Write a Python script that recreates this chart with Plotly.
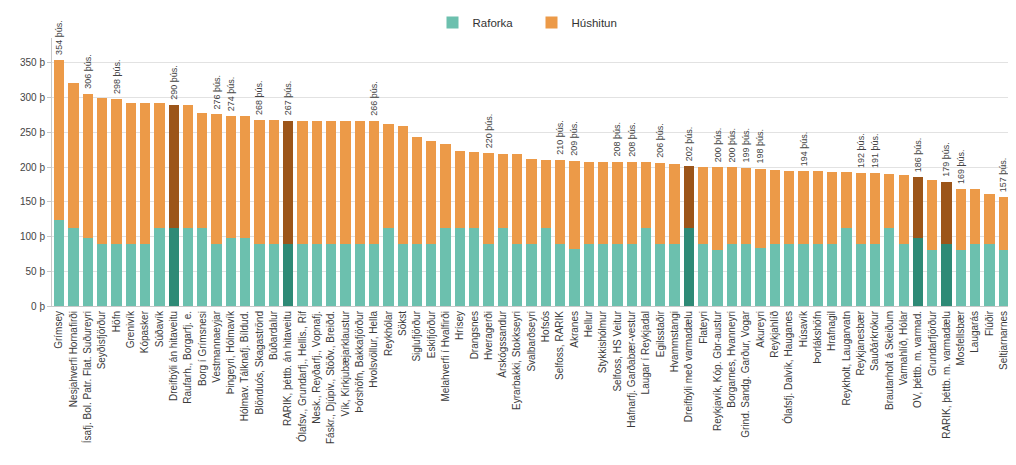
import plotly.graph_objects as go

categories = [
    "Grímsey", "Nesjahverfi Hornafirði", "Ísafj. Bol. Patr. Flat. Suðureyri", "Seyðisfjörður",
    "Höfn", "Grenivík", "Kópasker", "Súðavík", "Dreifbýli án hitaveitu",
    "Raufarh., Borgarfj. e.", "Borg í Grímsnesi", "Vestmannaeyjar", "Þingeyri, Hólmavík",
    "Hólmav. Tálknafj. Bíldud.", "Blönduós, Skagaströnd", "Búðardalur",
    "RARIK, þéttb. án hitaveitu", "Ólafsv., Grundarfj., Hellis., Rif", "Nesk., Reyðarfj., Vopnafj.",
    "Fáskr., Djúpiv., Stöðv., Breiðd.", "Vík, Kirkjubæjarklaustur", "Þórshöfn, Bakkafjörður",
    "Hvolsvöllur, Hella", "Reykhólar", "Sökst", "Siglufjörður", "Eskifjörður",
    "Melahverfi í Hvalfirði", "Hrísey", "Drangsnes", "Hveragerði", "Árskógssandur",
    "Eyrarbakki, Stokkseyri", "Svalbarðseyri", "Hofsós", "Selfoss, RARIK", "Akranes",
    "Hellur", "Stykkishólmur", "Selfoss, HS Veitur", "Hafnarfj. Garðabær-vestur",
    "Laugar í Reykjadal", "Egilsstaðir", "Hvammstangi", "Dreifbýli með varmadælu",
    "Flateyri", "Reykjavík, Kóp. Gbr-austur", "Borgarnes, Hvanneyri",
    "Grind. Sandg. Garður, Vogar", "Akureyri", "Reykjahlíð", "Ólafsfj. Dalvík, Hauganes",
    "Húsavík", "Þorlákshöfn", "Hrafnagil", "Reykholt, Laugarvatn", "Reykjanesbær",
    "Sauðárkrókur", "Brautarholt á Skeiðum", "Varmahlíð, Hólar", "OV, þéttb. m. varmad.",
    "Grundarfjörður", "RARIK, þéttb. m. varmadælu", "Mosfellsbær", "Laugarás", "Flúðir",
    "Seltjarnarnes",
]

totals = [
    354, 321, 306, 299, 298, 292, 292, 292, 290, 289, 278, 276, 274, 273, 268, 268,
    267, 266, 266, 266, 266, 266, 266, 262, 259, 243, 237, 233, 223, 222, 220, 219,
    219, 212, 211, 210, 209, 208, 208, 208, 208, 207, 206, 205, 202, 200, 200, 200,
    199, 198, 196, 195, 194, 194, 193, 193, 192, 191, 190, 189, 186, 182, 179, 169,
    168, 161, 157,
]

raforka = [
    124, 113, 98, 90, 90, 90, 90, 113, 113, 113, 113, 90, 98, 98, 90, 90,
    90, 90, 90, 90, 90, 90, 90, 113, 90, 90, 90, 113, 113, 113, 90, 113,
    90, 90, 113, 90, 82, 90, 90, 90, 90, 113, 90, 90, 113, 90, 81, 90,
    90, 83, 90, 90, 90, 90, 90, 113, 90, 90, 113, 90, 98, 81, 90, 81,
    90, 90, 81,
]

highlighted = [
    "Dreifbýli án hitaveitu", "RARIK, þéttb. án hitaveitu", "Dreifbýli með varmadælu",
    "OV, þéttb. m. varmad.", "RARIK, þéttb. m. varmadælu",
]

labelled = [
    "Grímsey", "Ísafj. Bol. Patr. Flat. Suðureyri", "Höfn", "Dreifbýli án hitaveitu",
    "Vestmannaeyjar", "Þingeyri, Hólmavík", "Blönduós, Skagaströnd",
    "RARIK, þéttb. án hitaveitu", "Hvolsvöllur, Hella", "Hveragerði", "Selfoss, RARIK",
    "Akranes", "Selfoss, HS Veitur", "Hafnarfj. Garðabær-vestur", "Egilsstaðir",
    "Dreifbýli með varmadælu", "Reykjavík, Kóp. Gbr-austur", "Borgarnes, Hvanneyri",
    "Grind. Sandg. Garður, Vogar", "Akureyri", "Húsavík", "Reykjanesbær", "Sauðárkrókur",
    "OV, þéttb. m. varmad.", "RARIK, þéttb. m. varmadælu", "Mosfellsbær", "Seltjarnarnes",
]

y_ticks = [0, 50, 100, 150, 200, 250, 300, 350]
y_ticktext = [f"{v} þ" for v in y_ticks]

hushitun = [t - r for t, r in zip(totals, raforka)]

TEAL, TEAL_D = "#6cc0ae", "#2e8a76"
ORANGE, ORANGE_D = "#ec9a48", "#9c5519"

teal_colors = [TEAL_D if c in highlighted else TEAL for c in categories]
orange_colors = [ORANGE_D if c in highlighted else ORANGE for c in categories]

fig = go.Figure()
fig.add_bar(x=categories, y=raforka, name="Raforka",
            marker=dict(color=teal_colors, line=dict(width=0)))
fig.add_bar(x=categories, y=hushitun, name="Húshitun",
            marker=dict(color=orange_colors, line=dict(width=0)))

for c, t in zip(categories, totals):
    if c in labelled:
        fig.add_annotation(x=c, y=t, text=f"{t} þús.", textangle=-90,
                           showarrow=False, yanchor="bottom", xanchor="center",
                           yshift=3, font=dict(size=9, color="#444"))

fig.update_layout(
    width=1008, height=457,
    barmode="stack", bargap=0.28,
    plot_bgcolor="white", paper_bgcolor="white",
    margin=dict(l=44, r=5, t=30, b=159),
    font=dict(family="Liberation Sans, Arial, sans-serif", size=10, color="#444"),
    legend=dict(orientation="h", x=0.5, xanchor="center", y=1.0, yanchor="top",
                yref="container", font=dict(size=11.5, color="#333"),
                entrywidth=54, entrywidthmode="pixels", traceorder="normal"),
    showlegend=True,
)
fig.update_xaxes(tickangle=-90, tickfont=dict(size=10, color="#3a3a3a"),
                 showline=True, linecolor="#c8c8c8", ticks="", automargin=False)
fig.update_yaxes(range=[0, 386], tickvals=y_ticks, ticktext=y_ticktext,
                 showgrid=True, gridcolor="#e2e2e2",
                 showline=True, linecolor="#c8c8c8", ticks="outside", ticklen=4,
                 tickcolor="#c8c8c8", zeroline=False,
                 tickfont=dict(size=10, color="#444"), automargin=False)

fig.write_html("out.html")
